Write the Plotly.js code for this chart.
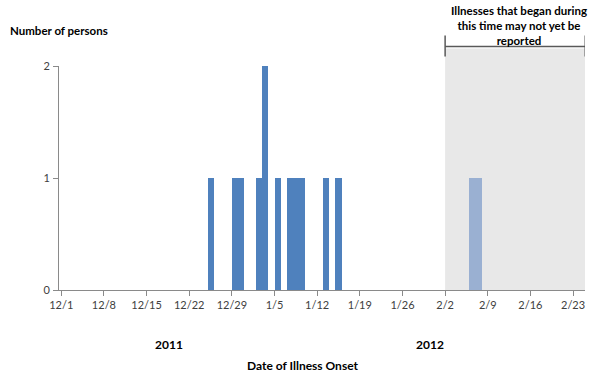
<!DOCTYPE html>
<html>
<head>
<meta charset="utf-8">
<script src="https://cdn.plot.ly/plotly-3.0.1.min.js"></script>
<style>html,body{margin:0;padding:0;background:#fff;}#chart{width:600px;height:382px;}</style>
</head>
<body>
<div id="chart"></div>
<script>
// Reported cases by date of illness onset
const onsetDates = ['2011-12-25','2011-12-29','2011-12-30','2012-01-02','2012-01-03','2012-01-05','2012-01-07','2012-01-08','2012-01-09','2012-01-13','2012-01-15'];
const onsetCounts = [1,1,1,1,2,1,1,1,1,1,1];
// Cases in the "may not yet be reported" window
const lateDates = ['2012-02-06','2012-02-07'];
const lateCounts = [1,1];
// Axis ticks
const tickDates = ['2011-12-01','2011-12-08','2011-12-15','2011-12-22','2011-12-29','2012-01-05','2012-01-12','2012-01-19','2012-01-26','2012-02-02','2012-02-09','2012-02-16','2012-02-23'];
const tickLabels = ['12/1','12/8','12/15','12/22','12/29','1/5','1/12','1/19','1/26','2/2','2/9','2/16','2/23'];
const yTicks = [0,1,2];
// Reporting-delay window
const windowStart = '2012-02-02';
const windowEnd = '2012-02-25';
const DAY = 86400000;

const FONT = 'Lato, "Open Sans", sans-serif';

const traces = [
  {
    type: 'bar', x: onsetDates, y: onsetCounts,
    xperiod: DAY, xperiodalignment: 'middle',
    width: DAY, marker: {color: '#4F81BD', line: {width: 0}},
    hoverinfo: 'x+y', showlegend: false
  },
  {
    type: 'bar', x: lateDates, y: lateCounts,
    xperiod: DAY, xperiodalignment: 'middle',
    width: DAY, marker: {color: '#9AB0D2', line: {width: 0}},
    hoverinfo: 'x+y', showlegend: false
  }
];

const layout = {
  width: 600, height: 382,
  margin: {l: 59, r: 15, t: 65.5, b: 92},
  paper_bgcolor: '#fff', plot_bgcolor: '#fff',
  barmode: 'overlay', bargap: 0,
  font: {family: FONT, size: 11, color: '#404040'},
  xaxis: {
    type: 'date',
    range: ['2011-11-30 15:00', '2012-02-24 23:00'],
    tickvals: tickDates, ticktext: tickLabels,
    showgrid: false, zeroline: false,
    showline: true, linecolor: '#8a8a8a', linewidth: 1,
    ticks: 'outside', ticklen: 5, tickcolor: '#8a8a8a',
    tickfont: {family: FONT, size: 11, color: '#404040'}
  },
  yaxis: {
    range: [0, 2],
    tickvals: yTicks,
    showgrid: false, zeroline: false,
    showline: true, linecolor: '#8a8a8a', linewidth: 1,
    ticks: 'outside', ticklen: 5, tickcolor: '#8a8a8a',
    ticklabelstandoff: 1,
    tickfont: {family: FONT, size: 11, color: '#404040'}
  },
  shapes: [
    {type: 'rect', layer: 'below', xref: 'x', yref: 'paper',
     x0: windowStart, x1: windowEnd, y0: 0, y1: 1.078,
     fillcolor: '#E8E8E8', line: {width: 0}},
    {type: 'line', xref: 'x', yref: 'paper', x0: windowStart, x1: windowEnd, y0: 1.087, y1: 1.087,
     line: {color: '#595959', width: 1.5}},
    {type: 'line', xref: 'x', yref: 'paper', x0: windowStart, x1: windowStart, y0: 1.042, y1: 1.136,
     line: {color: '#595959', width: 1.5}},
    {type: 'line', xref: 'x', yref: 'paper', x0: windowEnd, x1: windowEnd, y0: 1.042, y1: 1.136,
     line: {color: '#595959', width: 1.5}}
  ],
  annotations: [
    {text: '<b>Number of persons</b>', xref: 'paper', yref: 'paper', x: (8-59)/526, y: (290-30)/224.5,
     xanchor: 'left', yanchor: 'middle', showarrow: false, font: {family: FONT, size: 11.5, color: '#000'}},
    {text: '<b>Illnesses that began during<br>this time may not yet be<br>reported</b>', xref: 'paper', yref: 'paper',
     x: (519-59)/526, y: (290-25)/224.5, xanchor: 'center', yanchor: 'middle', showarrow: false,
     font: {family: FONT, size: 11.5, color: '#000'}},
    {text: '<b>2011</b>', xref: 'paper', yref: 'paper', x: (169-59)/526, y: (290-345)/224.5,
     xanchor: 'center', yanchor: 'middle', showarrow: false, font: {family: FONT, size: 12, color: '#000'}},
    {text: '<b>2012</b>', xref: 'paper', yref: 'paper', x: (430-59)/526, y: (290-345)/224.5,
     xanchor: 'center', yanchor: 'middle', showarrow: false, font: {family: FONT, size: 12, color: '#000'}},
    {text: '<b>Date of Illness Onset</b>', xref: 'paper', yref: 'paper', x: (302.5-59)/526, y: (290-366)/224.5,
     xanchor: 'center', yanchor: 'middle', showarrow: false, font: {family: FONT, size: 12, color: '#000'}}
  ]
};

Plotly.newPlot('chart', traces, layout, {displayModeBar: false, staticPlot: true});
</script>
</body>
</html>
